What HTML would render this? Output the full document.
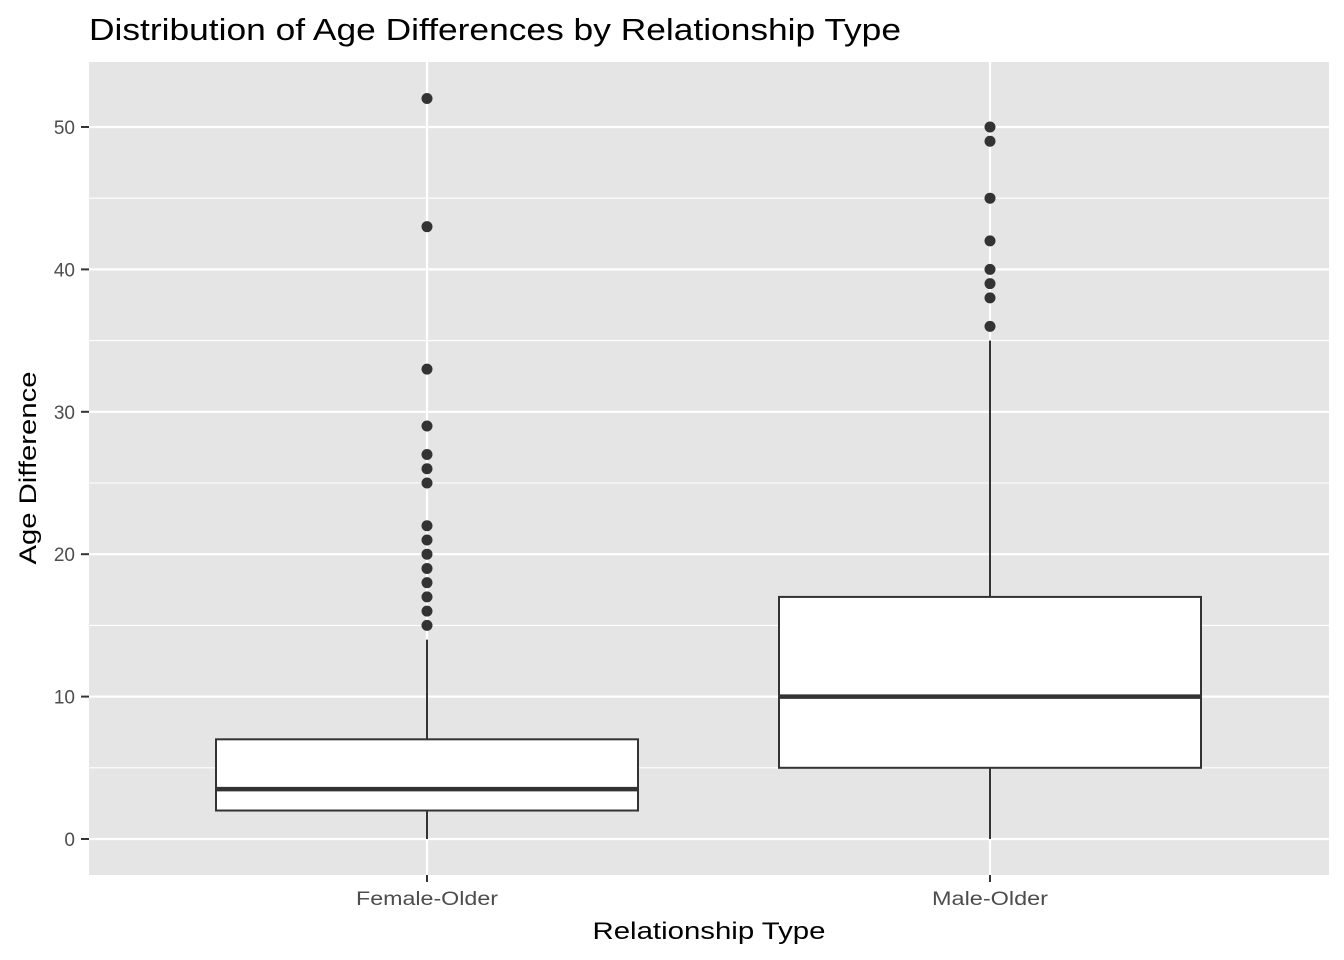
<!DOCTYPE html>
<html><head><meta charset="utf-8"><style>
body{margin:0;background:#fff}
svg{display:block;font-family:"Liberation Sans",Arial,sans-serif}
</style></head><body>
<svg id="chart" width="1344" height="960">
<text x="89" y="40" font-size="31" textLength="812" lengthAdjust="spacingAndGlyphs" fill="#000">Distribution of Age Differences by Relationship Type</text>
<rect x="89" y="62" width="1240" height="813" fill="#e5e5e5"/>
<g id="grid"></g><g id="marks"></g><g id="axes"></g>
<text x="709" y="939" font-size="24" textLength="233" lengthAdjust="spacingAndGlyphs" text-anchor="middle">Relationship Type</text>
<text transform="translate(36,468) rotate(-90)" font-size="24" textLength="193" lengthAdjust="spacingAndGlyphs" text-anchor="middle">Age Difference</text>
</svg>
<script>
const categories=["Female-Older","Male-Older"];
const mins=[0,0];
const q1s=[2,5];
const medians=[3.5,10];
const q3s=[7,17];
const maxs=[14,35];
const outliersF=[15,16,17,18,19,20,21,22,25,26,27,29,33,43,52];
const outliersM=[36,38,39,40,42,45,49,50];
const yTicks=[0,10,20,30,40,50];
const NS="http://www.w3.org/2000/svg";
function y(v){return 839-v*(839-127)/50;}
function x(i){return 427+i*563;}
const halfW=211;
function mk(tag,attrs,parent){const e=document.createElementNS(NS,tag);for(const k in attrs)e.setAttribute(k,attrs[k]);document.getElementById(parent).appendChild(e);return e;}
for(let i=0;i<yTicks.length;i++){
  const v=yTicks[i];
  const g=mk('line',{x1:89,x2:1329,y1:y(v),y2:y(v),stroke:'#fff','stroke-width':2.2},'grid');
  
  
  if(i<yTicks.length-1){const m=mk('line',{x1:89,x2:1329,y1:y(v+5),y2:y(v+5),stroke:'#fff','stroke-width':1.1},'grid');
  
  }
  const t=mk('text',{x:75,y:y(v)+7,'font-size':19,fill:'#4d4d4d','text-anchor':'end'},'axes');t.textContent=v;
  
  
  const tk=mk('line',{x1:81,x2:89,y1:y(v),y2:y(v),stroke:'#333','stroke-width':2},'axes');
  
  
}
{const m=mk('line',{x1:89,x2:1329,y1:y(55),y2:y(55),stroke:'#fff','stroke-width':1.1},'grid');

}
const outs=[outliersF,outliersM];
categories.forEach((c,i)=>{
  const cx=x(i);
  const gl=mk('line',{x1:cx,x2:cx,y1:62,y2:875,stroke:'#fff','stroke-width':2.2},'grid');
  
  
  const w1=mk('line',{x1:cx,x2:cx,y1:y(q3s[i]),y2:y(maxs[i]),stroke:'#333','stroke-width':2},'marks');
  
  
  const w2=mk('line',{x1:cx,x2:cx,y1:y(q1s[i]),y2:y(mins[i]),stroke:'#333','stroke-width':2},'marks');
  
  
  const b=mk('rect',{x:cx-halfW,y:y(q3s[i]),width:2*halfW,height:y(q1s[i])-y(q3s[i]),fill:'#fff',stroke:'#333','stroke-width':2},'marks');
  
  
  const md=mk('line',{x1:cx-halfW,x2:cx+halfW,y1:y(medians[i]),y2:y(medians[i]),stroke:'#333','stroke-width':4.5},'marks');
  
  
  outs[i].forEach(v=>{const p=mk('circle',{cx:cx,cy:y(v),r:5.5,fill:'#333'},'marks');
    
    });
  const tk=mk('line',{x1:cx,x2:cx,y1:875,y2:882,stroke:'#333','stroke-width':2},'axes');
  
  
  const t=mk('text',{x:cx,y:905,'font-size':19,fill:'#4d4d4d','text-anchor':'middle',textLength:(i===0?142:116),lengthAdjust:'spacingAndGlyphs'},'axes');t.textContent=c;
  
  
});
</script>
</body></html>
